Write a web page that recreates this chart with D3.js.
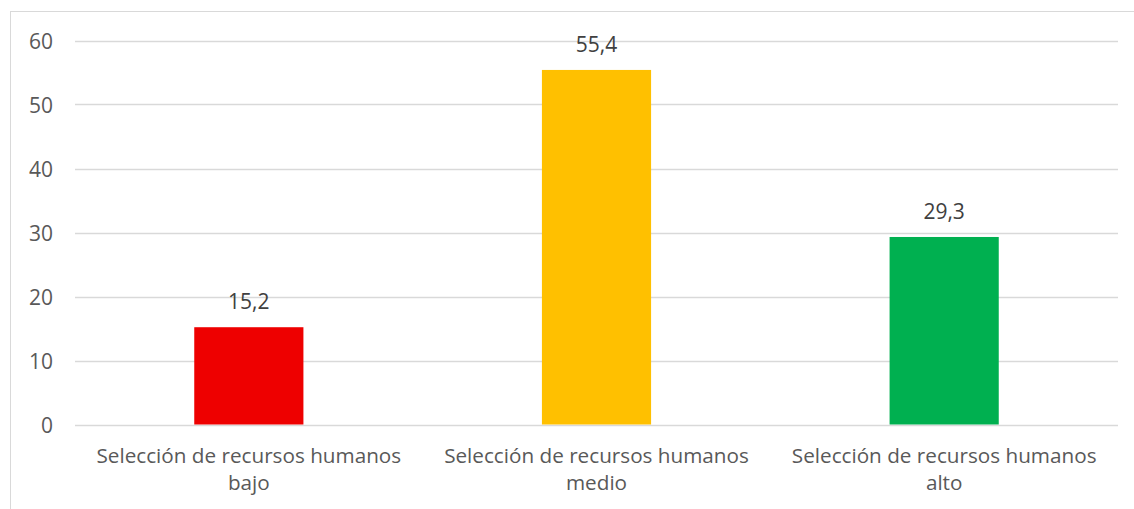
<!DOCTYPE html>
<html>
<head>
<meta charset="utf-8">
<script src="https://cdn.jsdelivr.net/npm/d3@7"></script>
<style>
  html, body { margin: 0; padding: 0; background: #fff; }
  svg { display: block; font-family: "Open Sans", "Noto Sans", sans-serif; }
</style>
</head>
<body>
<svg id="chart" width="1134" height="509"></svg>
<script>
// Chart data
const categories = [
  ["Selección de recursos humanos", "bajo"],
  ["Selección de recursos humanos", "medio"],
  ["Selección de recursos humanos", "alto"]
];
const values = [15.2, 55.4, 29.3];
const valueLabels = ["15,2", "55,4", "29,3"];
const barColors = ["#EE0000", "#FFC000", "#00B050"];
const yTicks = [0, 10, 20, 30, 40, 50, 60];

const svg = d3.select("#chart");
const W = 1134, H = 509;
const plot = { left: 75, right: 1118, top: 40.5, bottom: 424.5 };

// Chart area border
svg.append("rect")
  .attr("x", 10.5).attr("y", 11.5)
  .attr("width", W + 20).attr("height", H + 20)
  .attr("fill", "none").attr("stroke", "#D9D9D9").attr("stroke-width", 1);

const keys = categories.map((c, i) => i);
const x = d3.scaleBand().domain(keys).range([plot.left, plot.right]).padding(0);
const y = d3.scaleLinear().domain([0, 60]).range([plot.bottom, plot.top]);

// Gridlines
svg.append("g")
  .selectAll("line")
  .data(yTicks)
  .join("line")
  .attr("x1", plot.left).attr("x2", plot.right)
  .attr("y1", d => Math.round(y(d)) + 0.5).attr("y2", d => Math.round(y(d)) + 0.5)
  .attr("stroke", "#D9D9D9").attr("stroke-width", 1.3);

// Y axis labels
const yAxis = d3.axisLeft(y).tickValues(yTicks).tickSize(0).tickPadding(0);
const yg = svg.append("g").attr("transform", `translate(53,0)`).call(yAxis);
yg.select(".domain").remove();
yg.selectAll("text")
  .attr("fill", "#595959")
  .style("font-size", "21px")
  .style("font-family", "\"Open Sans\", sans-serif")
  .attr("dy", "0.36em");

// Bars
const barW = x.bandwidth() * 0.314;
svg.append("g")
  .selectAll("rect")
  .data(values)
  .join("rect")
  .attr("x", (d, i) => x(i) + x.bandwidth() / 2 - barW / 2)
  .attr("width", barW)
  .attr("y", d => y(d))
  .attr("height", d => y(0) - y(d))
  .attr("fill", (d, i) => barColors[i]);

// Value labels
svg.append("g")
  .selectAll("text")
  .data(values)
  .join("text")
  .attr("x", (d, i) => x(i) + x.bandwidth() / 2)
  .attr("y", d => y(d) - 18)
  .attr("text-anchor", "middle")
  .attr("fill", "#404040")
  .style("font-size", "21px")
  .text((d, i) => valueLabels[i]);

// Category labels
const xg = svg.append("g");
categories.forEach((lines, i) => {
  const t = xg.append("text")
    .attr("x", x(i) + x.bandwidth() / 2)
    .attr("y", 463)
    .attr("text-anchor", "middle")
    .attr("fill", "#595959")
    .style("font-size", "20.7px");
  lines.forEach((ln, j) => {
    t.append("tspan")
      .attr("x", x(i) + x.bandwidth() / 2)
      .attr("dy", j === 0 ? 0 : 27)
      .text(ln);
  });
});
</script>
</body>
</html>
